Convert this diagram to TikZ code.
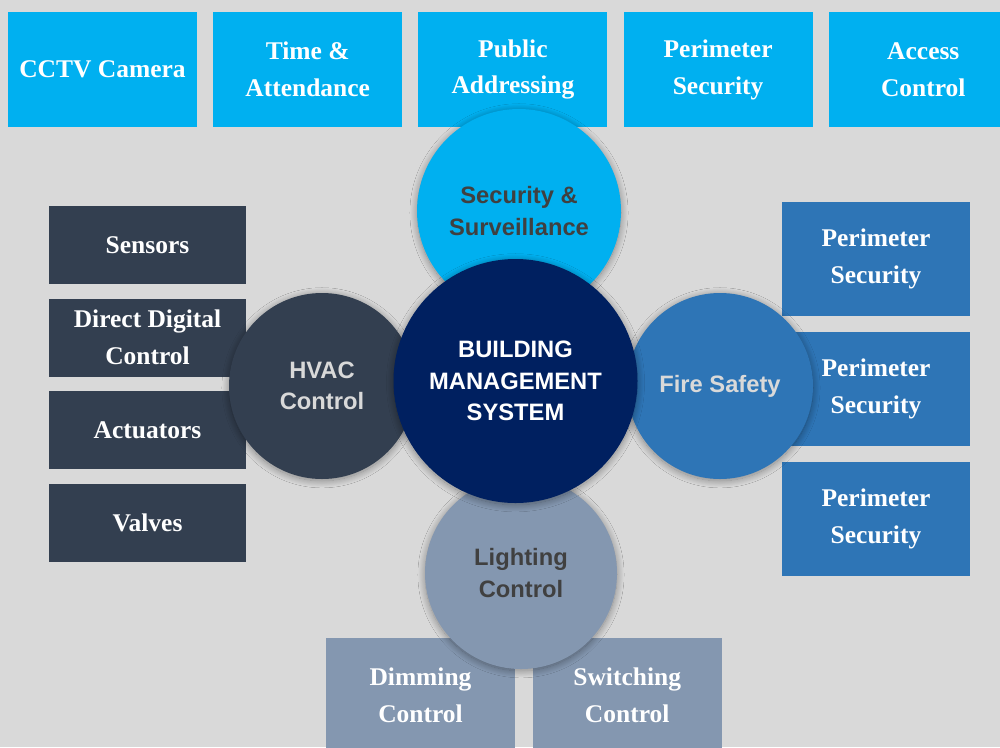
\documentclass[tikz,border=0pt]{standalone}
\usepackage{fontspec}
\setmainfont{Liberation Serif}
\newfontfamily\circfont{Liberation Sans}
\definecolor{bgGray}{HTML}{D9D9D9}
\definecolor{secCyan}{HTML}{00B0F0}
\definecolor{hvacSlate}{HTML}{333F50}
\definecolor{fireBlue}{HTML}{2E75B6}
\definecolor{lightSteel}{HTML}{8497B0}
\definecolor{bmsNavy}{HTML}{002060}
\definecolor{darkText}{HTML}{404040}
\usetikzlibrary{positioning,shadows.blur}

\begin{document}
\begin{tikzpicture}[
  node distance=0.31cm,
  item/.style={
    rectangle,
    minimum width=3.78cm,
    minimum height=2.3cm,
    inner sep=0pt,
    align=center,
    text=white,
    font=\bfseries\fontsize{14.5}{21}\selectfont
  },
  sideitem/.style={item,minimum width=3.94cm,minimum height=1.56cm},
  hub/.style={
    circle,
    inner sep=0pt,
    align=center,
    font=\circfont\bfseries\fontsize{13.5}{18}\selectfont,
    blur shadow={shadow xshift=0pt,shadow yshift=-1pt,
      shadow blur radius=4pt,shadow blur steps=24,shadow opacity=40}
  }
]
\useasboundingbox (0,0) rectangle (20,-14.94);
\clip (0,0) rectangle (20,-14.94);
\fill[bgGray] (0,0) rectangle (20,-14.94);

\node[item,fill=secCyan] (cctv) at (2.05,-1.39) {CCTV Camera};
\node[item,fill=secCyan,right=of cctv] (attend) {Time \&\\Attendance};
\node[item,fill=secCyan,right=of attend] (paddr) {Public\\Addressing};
\node[item,fill=secCyan,right=of paddr] (perim) {Perimeter\\Security};
\node[item,fill=secCyan,right=of perim] (access) {Access\\Control};

\node[sideitem,fill=hvacSlate] (sensors) at (2.95,-4.9) {Sensors};
\node[sideitem,fill=hvacSlate,below=0.28cm of sensors] (ddc) {Direct Digital\\Control};
\node[sideitem,fill=hvacSlate,below=0.28cm of ddc] (actuators) {Actuators};
\node[sideitem,fill=hvacSlate,below=0.28cm of actuators] (valves) {Valves};

\node[item,fill=fireBlue,minimum width=3.76cm,minimum height=2.28cm] (fireA) at (17.52,-5.17) {Perimeter\\Security};
\node[item,fill=fireBlue,minimum width=3.76cm,minimum height=2.28cm,below=of fireA] (fireB) {Perimeter\\Security};
\node[item,fill=fireBlue,minimum width=3.76cm,minimum height=2.28cm,below=of fireB] (fireC) {Perimeter\\Security};

\node[item,fill=lightSteel] (dimming) at (8.41,-13.91) {Dimming\\Control};
\node[item,fill=lightSteel,right=0.34cm of dimming] (switching) {Switching\\Control};

\node[hub,fill=secCyan,text=darkText,minimum size=4.08cm] (security) at (10.38,-4.22) {Security \&\\Surveillance};
\node[hub,fill=lightSteel,text=darkText,minimum size=3.84cm] (lighting) at (10.42,-11.46) {Lighting\\Control};
\node[hub,fill=hvacSlate,text=bgGray,minimum size=3.72cm] (hvac) at (6.44,-7.72) {HVAC\\Control};
\node[hub,fill=fireBlue,text=bgGray,minimum size=3.72cm] (fire) at (14.4,-7.72) {Fire Safety};
\node[hub,fill=bmsNavy,text=white,minimum size=4.88cm] (bms) at (10.31,-7.62) {BUILDING\\MANAGEMENT\\SYSTEM};
\end{tikzpicture}
\end{document}
